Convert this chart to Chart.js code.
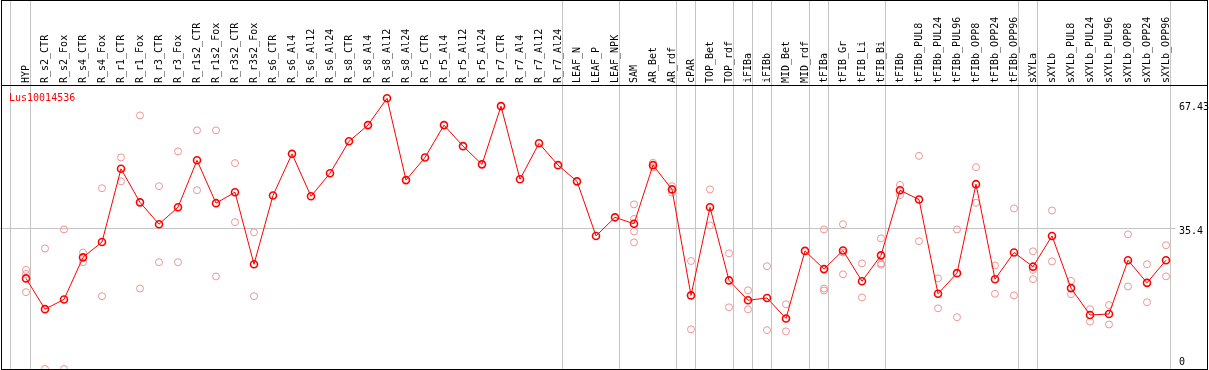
<!DOCTYPE html>
<html><head><meta charset="utf-8">
<script src="https://cdn.jsdelivr.net/npm/chart.js@4/dist/chart.umd.min.js"></script>
<style>html,body{margin:0;padding:0;background:#fff;overflow:hidden}canvas{display:block}</style>
</head><body>
<canvas id="c" width="1209" height="370"></canvas>
<script>
const geneName = 'Lus10014536';
const categories = ['HYP','R_s2_CTR','R_s2_Fox','R_s4_CTR','R_s4_Fox','R_r1_CTR','R_r1_Fox','R_r3_CTR','R_r3_Fox','R_r1s2_CTR','R_r1s2_Fox','R_r3s2_CTR','R_r3s2_Fox','R_s6_CTR','R_s6_Al4','R_s6_Al12','R_s6_Al24','R_s8_CTR','R_s8_Al4','R_s8_Al12','R_s8_Al24','R_r5_CTR','R_r5_Al4','R_r5_Al12','R_r5_Al24','R_r7_CTR','R_r7_Al4','R_r7_Al12','R_r7_Al24','LEAF_N','LEAF_P','LEAF_NPK','SAM','AR_Bet','AR_rdf','cPAR','TOP_Bet','TOP_rdf','iFIBa','iFIBb','MID_Bet','MID_rdf','tFIBa','tFIB_Gr','tFIB_Li','tFIB_Bi','tFIBb','tFIBb_PUL8','tFIBb_PUL24','tFIBb_PUL96','tFIBb_OPP8','tFIBb_OPP24','tFIBb_OPP96','sXYLa','sXYLb','sXYLb_PUL8','sXYLb_PUL24','sXYLb_PUL96','sXYLb_OPP8','sXYLb_OPP24','sXYLb_OPP96'];
const meanValues = [22.9,15.3,17.7,28.1,31.9,50.0,41.7,36.3,40.5,52.1,41.5,44.2,26.4,43.4,53.7,43.2,48.9,56.8,60.8,67.43,47.2,52.8,60.8,55.6,51.1,65.5,47.4,56.3,50.9,46.9,33.4,38.0,36.4,50.9,44.9,18.7,40.5,22.4,17.5,18.05,13.0,29.7,25.2,29.8,22.2,28.6,44.7,42.4,19.1,24.2,46.2,22.7,29.3,25.8,33.4,20.5,13.85,14.1,27.4,21.8,27.4];
const rep1 = [25.0,30.3,35.0,29.3,45.2,52.8,63.2,45.7,54.3,59.5,59.5,51.4,34.3,null,null,null,null,null,null,null,null,null,null,null,null,null,null,null,null,null,null,null,41.2,51.5,45.7,27.2,44.9,29.1,19.95,25.9,16.5,null,35.0,36.3,26.6,32.8,46.0,53.2,22.9,35.0,50.4,26.1,40.2,29.6,39.7,22.3,15.3,16.3,33.8,26.4,31.1];
const rep2 = [24.0,0.5,0.5,26.9,18.5,46.9,20.4,26.9,26.9,44.7,23.4,36.8,18.5,null,null,null,null,null,null,null,null,null,null,null,null,null,null,null,null,null,null,null,37.6,50.3,44.1,10.3,36.0,15.75,15.25,10.1,9.8,null,20.4,29.3,18.2,26.6,43.5,32.1,15.5,13.3,41.6,19.1,18.7,25.0,27.1,19.0,12.2,11.5,20.9,17.0,23.4];
const rep3 = [19.5,null,null,null,null,null,null,null,null,null,null,null,null,null,null,null,null,null,null,null,null,null,null,null,null,null,null,null,null,null,null,null,34.5,null,null,null,null,null,null,null,null,null,19.9,23.9,null,26.3,null,null,null,null,null,null,null,22.7,null,null,null,null,null,null,null];
const rep4 = [null,null,null,null,null,null,null,null,null,null,null,null,null,null,null,null,null,null,null,null,null,null,null,null,null,null,null,null,null,null,null,null,31.8,null,null,null,null,null,null,null,null,null,null,null,null,null,null,null,null,null,null,null,null,null,null,null,null,null,null,null,null];
const yTickValues = [0, 35.4, 67.43];
const yTickLabels = ['0', '35.4', '67.43'];
const gridLineValues = [35.4];
const groupEnds = [-1, 0, 28, 31, 34, 35, 37, 38, 39, 41, 42, 45, 52, 53, 60];

const FONT = '10px "DejaVu Sans Mono"';
const GRID = '#c4c4c4';

const decor = {
  id: 'decor',
  beforeDraw(chart) {
    const ctx = chart.ctx, xs = chart.scales.x, ys = chart.scales.y;
    ctx.save();
    ctx.fillStyle = '#fff';
    ctx.fillRect(0, 0, chart.width, chart.height);
    ctx.strokeStyle = GRID;
    ctx.lineWidth = 1;
    groupEnds.forEach(i => {
      const px = i < 0 ? xs.getPixelForValue(0) - 16 : xs.getPixelForValue(i) + 4;
      ctx.beginPath();
      ctx.moveTo(Math.round(px) + 0.5, 0);
      ctx.lineTo(Math.round(px) + 0.5, chart.height);
      ctx.stroke();
    });
    gridLineValues.forEach(v => {
      const py = Math.round(ys.getPixelForValue(v)) + 0.5;
      ctx.beginPath();
      ctx.moveTo(0, py);
      ctx.lineTo(chart.chartArea.right, py);
      ctx.stroke();
    });
    ctx.restore();
  },
  afterDraw(chart) {
    const ctx = chart.ctx, ys = chart.scales.y, a = chart.chartArea;
    ctx.save();
    ctx.font = FONT;
    ctx.fillStyle = '#000';
    ctx.textAlign = 'left';
    ctx.textBaseline = 'alphabetic';
    yTickValues.forEach((v, k) => {
      let py = ys.getPixelForValue(v) + 6.5;
      py = Math.min(Math.max(py, a.top + 25), a.bottom - 5);
      ctx.fillText(yTickLabels[k], 1179, py);
    });
    ctx.fillStyle = '#ff0000';
    ctx.fillText(geneName, 9, 101);
    ctx.strokeStyle = '#000';
    ctx.lineWidth = 1;
    ctx.strokeRect(1.5, 0.5, 1206, 369);
    ctx.beginPath();
    ctx.moveTo(1, 85.5);
    ctx.lineTo(1208, 85.5);
    ctx.stroke();
    ctx.restore();
  }
};

const repStyle = {
  type: 'line', showLine: false, clip: false, order: 2,
  pointRadius: 3.5, pointBorderWidth: 1,
  pointBorderColor: 'rgb(238,150,150)', pointBackgroundColor: 'rgba(0,0,0,0)'
};

new Chart(document.getElementById('c'), {
  type: 'line',
  data: {
    labels: categories,
    datasets: [
      Object.assign({ label: 'rep1', data: rep1 }, repStyle),
      Object.assign({ label: 'rep2', data: rep2 }, repStyle),
      Object.assign({ label: 'rep3', data: rep3 }, repStyle),
      Object.assign({ label: 'rep4', data: rep4 }, repStyle),
      {
        label: geneName, data: meanValues, order: 1, clip: false,
        borderColor: '#ff0000', borderWidth: 1, tension: 0,
        pointRadius: 3.5, pointBorderWidth: 1.6,
        pointBorderColor: '#ff0000', pointBackgroundColor: 'rgba(0,0,0,0)'
      }
    ]
  },
  options: {
    responsive: false,
    animation: false,
    devicePixelRatio: 1,
    events: [],
    layout: { autoPadding: false, padding: { left: 16.5, right: 0, top: 0, bottom: 0 } },
    plugins: { legend: { display: false }, tooltip: { enabled: false }, title: { display: false } },
    scales: {
      x: {
        type: 'category', position: 'top', offset: true,
        grid: { display: false, drawTicks: false },
        border: { display: false },
        ticks: {
          autoSkip: false, minRotation: 90, maxRotation: 90, padding: 2, labelOffset: 12,
          color: '#000', font: { family: 'DejaVu Sans Mono', size: 10 }
        },
        afterFit(s) { s.height = 85; }
      },
      y: {
        position: 'right', min: 0.25, max: 70.72,
        grid: { display: false, drawTicks: false },
        border: { display: false },
        ticks: { display: false },
        afterFit(s) { s.width = 33.5; }
      }
    }
  },
  plugins: [decor]
});
</script>
</body></html>
